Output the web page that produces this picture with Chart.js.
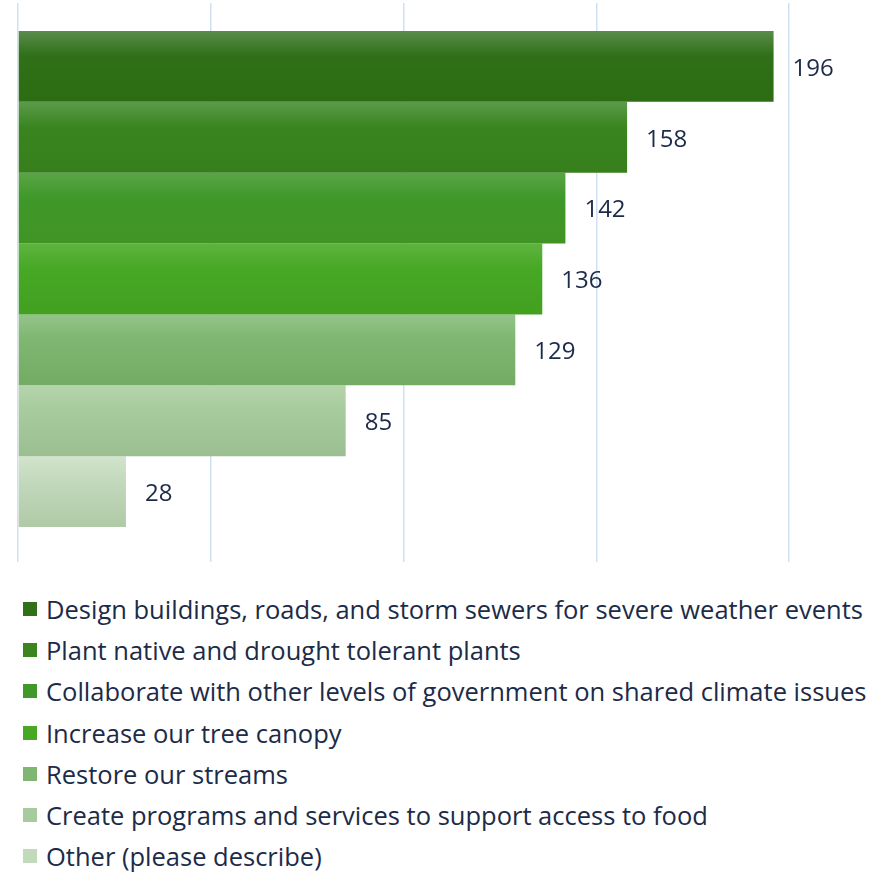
<!DOCTYPE html>
<html>
<head>
<meta charset="utf-8">
<script src="https://cdn.jsdelivr.net/npm/chart.js@4.4.1/dist/chart.umd.min.js"></script>
<style>
  html, body { margin: 0; padding: 0; background: #fff; }
  #wrap { position: relative; width: 888px; height: 575px; }
  #legend { margin: 0; padding: 0 0 0 23px; list-style: none; position: absolute; top: 588px; left: 0; }
  #legend li { display: flex; align-items: center; height: 41.3px; font-family: 'Open Sans', sans-serif; font-size: 25.5px; color: #1c2b48; white-space: nowrap; }
  #legend .box { width: 14px; height: 14px; margin-right: 9px; flex: none; }
</style>
</head>
<body>
<div id="wrap"><canvas id="chart"></canvas></div>
<ul id="legend"></ul>
<script>
const categories = [
  'Design buildings, roads, and storm sewers for severe weather events',
  'Plant native and drought tolerant plants',
  'Collaborate with other levels of government on shared climate issues',
  'Increase our tree canopy',
  'Restore our streams',
  'Create programs and services to support access to food',
  'Other (please describe)'
]
const counts = [196, 158, 142, 136, 129, 85, 28]
const xTicks = [0, 50, 100, 150, 200]

// [top, bottom] of each bar's vertical gradient, plus a flat swatch colour
const gradTop = ['#5a8c4c', '#5c9a4a', '#5aa546', '#5eb43e', '#93c489', '#b4d5ab', '#d2e4cd']
const gradBottom = ['#2c6c12', '#367f1c', '#3f9424', '#43a020', '#74ab64', '#9cbf91', '#b0caa7']
const swatch = ['#2f7018', '#3a8520', '#40982a', '#47a826', '#7fb671', '#a7cb9c', '#c2d9bb']

const gradientBars = {
  id: 'gradientBars',
  beforeDatasetsDraw(chart) {
    const ctx = chart.ctx
    chart.data.datasets.forEach((ds, i) => {
      chart.getDatasetMeta(i).data.forEach(el => {
        const top = el.y - el.height / 2
        const g = ctx.createLinearGradient(0, top, 0, top + el.height)
        g.addColorStop(0, gradTop[i])
        g.addColorStop(0.35, swatch[i])
        g.addColorStop(1, gradBottom[i])
        el.options.backgroundColor = g
      })
    })
  }
}

const valueLabels = {
  id: 'valueLabels',
  afterDatasetsDraw(chart) {
    const ctx = chart.ctx
    ctx.save()
    ctx.font = '24px "Open Sans", sans-serif'
    ctx.fillStyle = '#1c2b48'
    ctx.textBaseline = 'middle'
    chart.data.datasets.forEach((ds, i) => {
      chart.getDatasetMeta(i).data.forEach((el, j) => {
        ctx.fillText(String(ds.data[j]), el.x + 19, el.y + 2.5)
      })
    })
    ctx.restore()
  }
}

const chart = new Chart(document.getElementById('chart'), {
  type: 'bar',
  data: {
    labels: [''],
    datasets: categories.map((name, i) => ({
      label: name,
      data: [counts[i]],
      backgroundColor: swatch[i],
      borderWidth: 0,
      categoryPercentage: 0.8986,
      barPercentage: 1,
    })),
  },
  options: {
    indexAxis: 'y',
    responsive: true,
    maintainAspectRatio: false,
    animation: false,
    layout: { padding: { left: 18, right: 99, top: 3, bottom: 13 } },
    scales: {
      x: {
        min: xTicks[0],
        max: xTicks[xTicks.length - 1],
        afterBuildTicks: axis => { axis.ticks = xTicks.map(v => ({ value: v })) },
        ticks: { display: false },
        border: { display: false },
        grid: { color: '#cfe0f3', lineWidth: 1.5, drawTicks: true, tickLength: 7 },
      },
      y: { display: false },
    },
    plugins: {
      legend: { display: false },
      tooltip: { enabled: false },
    },
  },
  plugins: [gradientBars, valueLabels],
})

// legend list below the plot, one entry per line
const legendEl = document.getElementById('legend')
chart.data.datasets.forEach((ds, i) => {
  const li = document.createElement('li')
  const box = document.createElement('span')
  box.className = 'box'
  box.style.background = swatch[i]
  li.appendChild(box)
  li.appendChild(document.createTextNode(ds.label))
  legendEl.appendChild(li)
})
</script>
</body>
</html>
